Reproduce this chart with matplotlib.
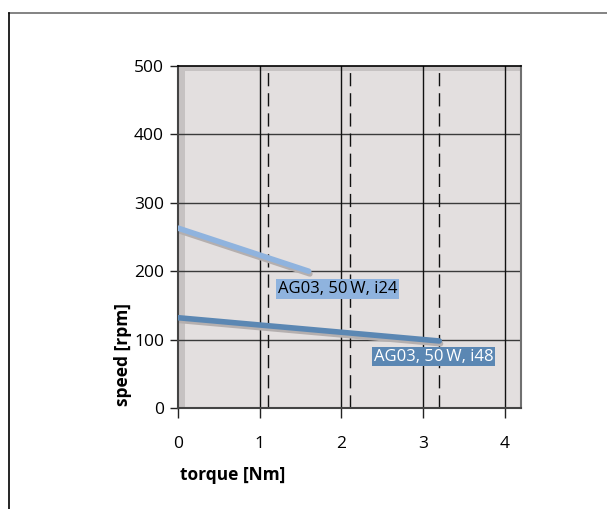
import matplotlib.pyplot as plt
from matplotlib.patches import Rectangle
from matplotlib.lines import Line2D

# motor curves (torque Nm -> speed rpm)
torque_i24 = [0.0, 1.6]
speed_i24 = [263, 200]
torque_i48 = [0.0, 3.2]
speed_i48 = [132, 98]

labels = ['AG03, 50\u2009W, i24', 'AG03, 50\u2009W, i48']
label_pos = [(1.95, 174), (3.13, 75)]
limit_torque = [1.1, 2.1, 3.2]

xticks = [0, 1, 2, 3, 4]
yticks = [0, 100, 200, 300, 400, 500]

plt.rcParams['font.family'] = ['Open Sans', 'DejaVu Sans']

fig = plt.figure(figsize=(6.07, 5.09), dpi=100)
ax = fig.add_axes([178 / 607, 1 - 408 / 509, 343 / 607, 342 / 509])

bg = '#e3dfdf'
edge = '#c6c2c2'
ax.set_facecolor(bg)
ax.set_xlim(0, 4.2)
ax.set_ylim(0, 500)

# darker inner strips on left and top
ax.add_patch(Rectangle((0, 0), 0.08, 500, color=edge, lw=0, zorder=0.5))
ax.add_patch(Rectangle((0, 493), 4.2, 7, color=edge, lw=0, zorder=0.5))

for y in yticks[1:-1]:
    ax.axhline(y, color='#3a3a3a', lw=1.0, zorder=1)
for x in xticks[1:]:
    ax.axvline(x, color='#111111', lw=1.0, zorder=1)
for x in limit_torque:
    ax.axvline(x, color='#111111', lw=1.0, ls=(0, (9.5, 5)), zorder=1)

# curves with soft shadow
c24 = '#8fb3de'
c48 = '#5b87b3'
for tx, sp, col in [(torque_i24, speed_i24, c24), (torque_i48, speed_i48, c48)]:
    ax.plot([t + 0.015 for t in tx], [s - 4 for s in sp], color='#b4afaf',
            lw=4, solid_capstyle='round', zorder=2)
    ax.plot(tx, sp, color=col, lw=4, solid_capstyle='round', zorder=3)

ax.text(label_pos[0][0], label_pos[0][1], labels[0], ha='center', va='center',
        fontsize=12, color='black', zorder=4,
        bbox=dict(boxstyle='square,pad=0.1', fc=c24, ec='none'))
ax.text(label_pos[1][0], label_pos[1][1], labels[1], ha='center', va='center',
        fontsize=12, color='white', zorder=4,
        bbox=dict(boxstyle='square,pad=0.1', fc=c48, ec='none'))

ax.set_xticks(xticks)
ax.set_yticks(yticks)
ax.tick_params(axis='both', length=6, width=1, color='#222222',
               labelsize=12.5, pad=4)
ax.tick_params(axis='x', length=7.5, pad=13)

for s in ['left', 'bottom']:
    ax.spines[s].set_color('#444444')
    ax.spines[s].set_linewidth(1.5)
ax.spines['top'].set_color('black')
ax.spines['top'].set_linewidth(1.2)
ax.spines['right'].set_color('#707070')
ax.spines['right'].set_linewidth(1.5)

ax.set_ylabel('speed [rpm]', fontsize=12.5, fontweight='bold')
ax.yaxis.set_label_coords(-0.133, 0.155)
ax.set_xlabel('torque [Nm]', fontsize=12.5, fontweight='bold', ha='left')
ax.xaxis.set_label_coords(0.005, -0.17)

# page frame: top and left rules
fig.add_artist(Line2D([9 / 607, 1], [1 - 13 / 509] * 2, color='#6e6e6e', lw=1.2,
                      transform=fig.transFigure))
fig.add_artist(Line2D([9 / 607] * 2, [0, 1 - 13 / 509], color='black', lw=1.2,
                      transform=fig.transFigure))

fig.savefig('out.png', dpi=100)
